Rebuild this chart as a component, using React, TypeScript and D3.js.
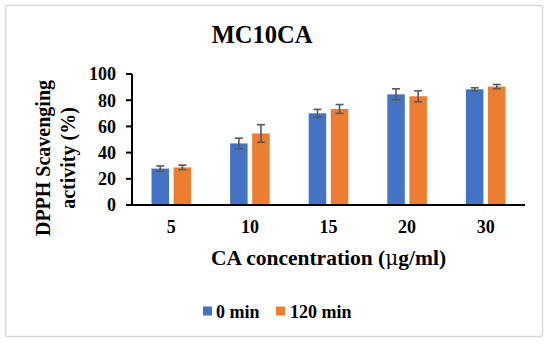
import React from "react";
import * as d3 from "d3";

const categories = ["5", "10", "15", "20", "30"];
const seriesNames = ["0 min", "120 min"];
const values0 = [27.8, 47, 70, 84.5, 88.3];
const errors0 = [2, 4, 3, 4.2, 1.2];
const values120 = [28.7, 54.6, 73.3, 83, 90.4];
const errors120 = [1.7, 6.7, 3.4, 4.2, 1.6];
const yTicks = [0, 20, 40, 60, 80, 100];
const colors = ["#4472C4", "#ED7D31"];

const W = 550;
const H = 345;
const font = "'Liberation Serif', 'Times New Roman', serif";

export default function App() {
  const x = d3.scaleBand<string>().domain(categories).range([132, 525]).paddingInner(0).paddingOuter(0);
  const y = d3.scaleLinear().domain([0, 100]).range([205, 74]);
  const barW = 17.5;
  const gap = 4.6;
  const series = [
    { name: seriesNames[0], values: values0, errors: errors0, color: colors[0] },
    { name: seriesNames[1], values: values120, errors: errors120, color: colors[1] },
  ];
  const plotCenter = (132 + 525) / 2;

  return (
    <svg width={W} height={H} style={{ position: "absolute", left: 0, top: 0 }} fontFamily={font}>
      <rect x={0} y={0} width={W} height={H} fill="#fff" />
      <rect x={5.5} y={5.5} width={537} height={331} fill="#fff" stroke="#d9d9d9" strokeWidth={1.5} rx={2} />
      <text x={262} y={43} textAnchor="middle" fontSize={24.5} fontWeight="bold">MC10CA</text>

      {/* bars */}
      {categories.map((c, i) => {
        const cx = (x(c) as number) + x.bandwidth() / 2;
        return (
          <g key={c}>
            {series.map((s, j) => {
              const bx = j === 0 ? cx - gap / 2 - barW : cx + gap / 2;
              const v = s.values[i];
              const e = s.errors[i];
              const mx = bx + barW / 2;
              return (
                <g key={s.name}>
                  <rect x={bx} y={y(v)} width={barW} height={y(0) - y(v)} fill={s.color} />
                  <g stroke="#595959" strokeWidth={1.6}>
                    <line x1={mx} x2={mx} y1={y(v + e)} y2={y(v - e)} />
                    <line x1={mx - 4} x2={mx + 4} y1={y(v + e)} y2={y(v + e)} />
                    <line x1={mx - 4} x2={mx + 4} y1={y(v - e)} y2={y(v - e)} />
                  </g>
                </g>
              );
            })}
          </g>
        );
      })}

      {/* y axis */}
      <line x1={132} x2={132} y1={y(100)} y2={y(0)} stroke="#000" strokeWidth={2} />
      {yTicks.map((t) => (
        <g key={t}>
          <line x1={126} x2={132} y1={y(t)} y2={y(t)} stroke="#000" strokeWidth={2} />
          <text x={116} y={y(t)} dy="0.35em" textAnchor="end" fontSize={18} fontWeight="bold">{t}</text>
        </g>
      ))}
      {/* x axis */}
      <line x1={126} x2={525} y1={y(0)} y2={y(0)} stroke="#000" strokeWidth={2.2} />
      {categories.map((c) => (
        <text key={c} x={(x(c) as number) + x.bandwidth() / 2} y={233} textAnchor="middle" fontSize={18} fontWeight="bold">{c}</text>
      ))}

      {/* axis titles */}
      <text x={plotCenter} y={265} textAnchor="middle" fontSize={21.5} fontWeight="bold">
        CA concentration (<tspan fontWeight="normal" fontFamily="'DejaVu Serif', serif" fontSize={20}>μ</tspan>g/ml)
      </text>
      <g transform="translate(0,158) rotate(-90)">
        <text x={0} y={50} textAnchor="middle" fontSize={20} fontWeight="bold">DPPH Scavenging</text>
        <text x={0} y={75} textAnchor="middle" fontSize={20} fontWeight="bold">activity (%)</text>
      </g>

      {/* legend */}
      <rect x={203} y={306.5} width={9} height={9} fill={colors[0]} />
      <text x={216} y={317.5} fontSize={18} fontWeight="bold">{seriesNames[0]}</text>
      <rect x={276} y={306.5} width={9} height={9} fill={colors[1]} />
      <text x={290} y={317.5} fontSize={18} fontWeight="bold">{seriesNames[1]}</text>
    </svg>
  );
}
